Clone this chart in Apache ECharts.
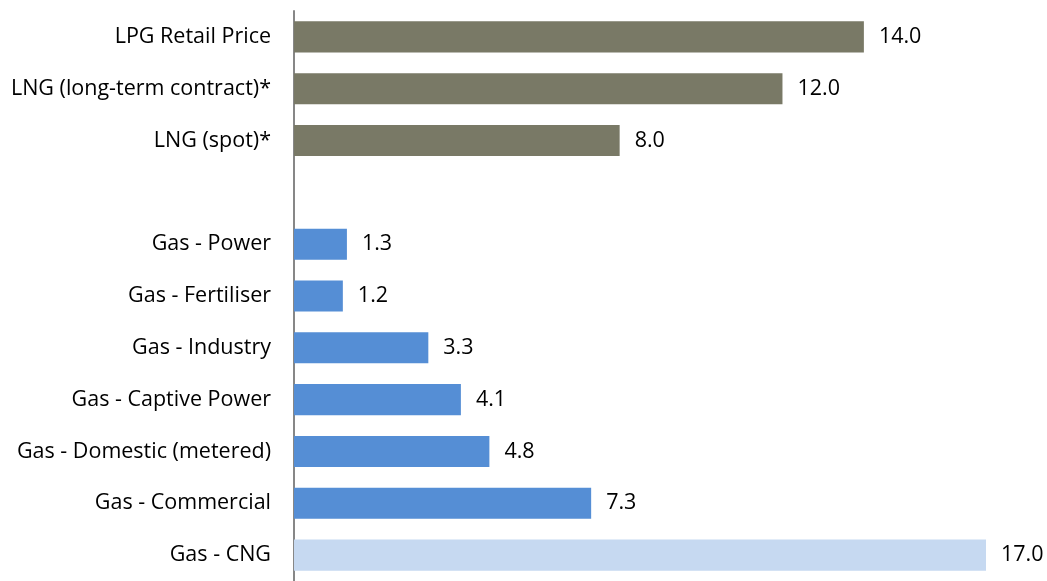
<!DOCTYPE html>
<html>
<head>
<meta charset="utf-8">
<script src="https://cdn.jsdelivr.net/npm/echarts@6/dist/echarts.min.js"></script>
<style>
  html, body { margin: 0; padding: 0; background: #fff; }
  #chart { width: 1047px; height: 581px; }
</style>
</head>
<body>
<div id="chart"></div>
<script>
// Fuel prices, top to bottom; the blank entry is a spacer row between groups
const categories = [
  'LPG Retail Price',
  'LNG (long-term contract)*',
  'LNG (spot)*',
  '',
  'Gas - Power',
  'Gas - Fertiliser',
  'Gas - Industry',
  'Gas - Captive Power',
  'Gas - Domestic (metered)',
  'Gas - Commercial',
  'Gas - CNG'
];
const values = [14.0, 12.0, 8.0, null, 1.3, 1.2, 3.3, 4.1, 4.8, 7.3, 17.0];
const groups = ['imported', 'imported', 'imported', null, 'gas', 'gas', 'gas', 'gas', 'gas', 'gas', 'cng'];

const groupColors = { imported: '#797966', gas: '#558ED5', cng: '#C6D9F1' };

const chart = echarts.init(document.getElementById('chart'), null, { renderer: 'canvas' });

const font = '"Open Sans", sans-serif';

chart.setOption({
  animation: false,
  grid: { left: 294, right: 61, top: 11, height: 573, containLabel: false },
  xAxis: {
    type: 'value',
    min: 0,
    max: 17,
    show: false
  },
  yAxis: {
    type: 'category',
    inverse: true,
    data: categories,
    axisLine: { show: true, lineStyle: { color: '#878787', width: 2 } },
    axisTick: { show: false },
    axisLabel: {
      color: '#000', fontFamily: font, fontSize: 21.5, margin: 23,
      padding: [3, 0, 0, 0]
    }
  },
  series: [{
    type: 'bar',
    barCategoryGap: '40%',
    data: values.map((v, i) => ({
      value: v,
      itemStyle: { color: groups[i] ? groupColors[groups[i]] : 'transparent' }
    })),
    label: {
      show: true,
      position: 'right',
      distance: 15,
      color: '#000',
      fontFamily: font,
      fontSize: 21.5,
      padding: [3, 0, 0, 0],
      formatter: p => (p.value == null ? '' : Number(p.value).toFixed(1))
    }
  }]
});
</script>
</body>
</html>
